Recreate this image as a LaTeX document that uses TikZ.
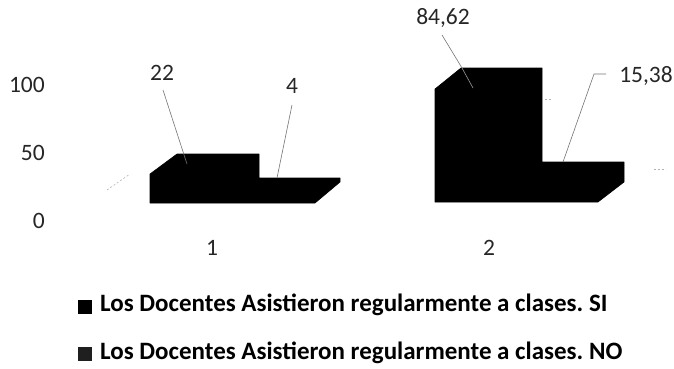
\documentclass[tikz,border=0pt]{standalone}
\usepackage{fontspec}
\setmainfont{Carlito}
\begin{document}
\frenchspacing
\begin{tikzpicture}[x=1pt,y=-1pt,
  axlab/.style={font=\fontsize{23.5}{26}\selectfont, inner sep=0pt, text=black!85},
  datalab/.style={font=\fontsize{23.5}{26}\selectfont, inner sep=0pt, text=black!85},
  barshape/.style={fill=black, draw=black, line width=0.6pt, line join=round},
  leader/.style={draw=black!55, line width=0.6pt},
  faint/.style={draw=black!30, line width=0.6pt, dash pattern=on 2pt off 2pt},
  legsq/.style={minimum size=14pt, inner sep=0pt},
  legtext/.style={font=\bfseries\fontsize{25}{28}\selectfont, inner sep=0pt, anchor=west}]
\useasboundingbox (0,0) rectangle (674,368);
% axis labels
\node[axlab, anchor=east] (y100) at (45,85) {100};
\node[axlab, anchor=east] (y50) at (45,153) {50};
\node[axlab, anchor=east] (y0) at (45,221) {0};
% category labels
\node[axlab] (c1) at (212,248) {1};
\node[axlab] (c2) at (489,248) {2};
% faint floor fragments
\draw[faint] (107,190) -- (130,174);
\draw[faint] (654,169) -- (666,169);
\draw[faint] (545,99) -- (551,99);
% bars group 1
\path[barshape] (150,203) -- (150,174) -- (177,154) -- (259,154) -- (259,178)
  -- (340,178) -- (340,182) -- (315,203) -- cycle;
% bars group 2
\path[barshape] (435,202) -- (435,89) -- (461,68) -- (542,68) -- (542,162)
  -- (624,162) -- (624,182) -- (598,202) -- cycle;
% data labels
\node[datalab] (d22) at (162,73) {22};
\node[datalab] (d4) at (292,86) {4};
\node[datalab] (d8462) at (443,18) {84,62};
\node[datalab] (d1538) at (646,76) {15,38};
% leader lines
\coordinate (s22) at (163,90);  \coordinate (e22) at (187,164);
\coordinate (s4) at (292,105);  \coordinate (e4) at (277,178);
\coordinate (s84) at (442,35);  \coordinate (e84) at (462,68);
\coordinate (s15) at (606,74);  \coordinate (k15) at (594,74); \coordinate (e15) at (563,162);
\draw[leader] (s22) -- (e22);
\draw[leader] (s4) -- (e4);
\draw[leader] (s84) -- (e84);
\draw[draw=black!40, line width=0.6pt] (e84) -- (473,88);
\draw[leader] (s15) -- (k15) -- (e15);
% legend
\node[legsq, fill=black] (sq1) at (84.5,306.5) {};
\node[legsq, fill=black!88] (sq2) at (84.5,354) {};
\node[legtext] (t1) at (100,305) {Los Docentes Asistieron regularmente a clases. SI};
\node[legtext] (t2) at (100,353) {Los Docentes Asistieron regularmente a clases. NO};
\end{tikzpicture}
\end{document}
